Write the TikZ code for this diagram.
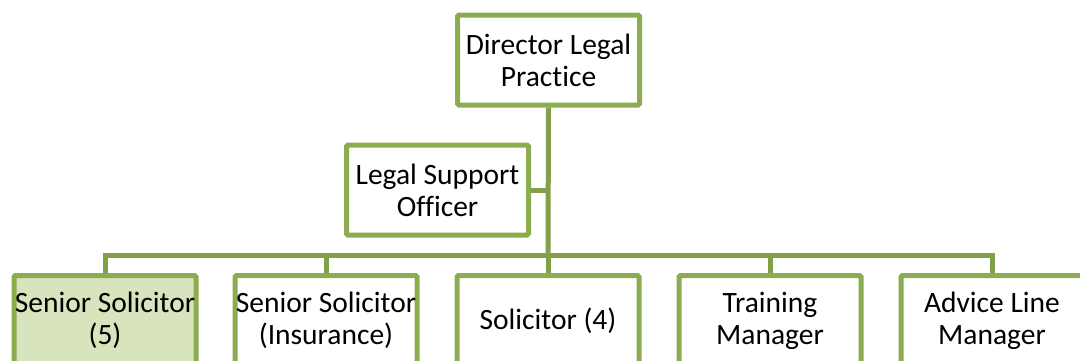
\documentclass[tikz,border=0pt]{standalone}
\usepackage{fontspec}
\setmainfont{Carlito}[Ligatures=NoCommon]
\definecolor{bord}{HTML}{8CAC50}
\definecolor{conn}{HTML}{82A04A}
\definecolor{lightg}{HTML}{D7E4BD}
\begin{document}
\begin{tikzpicture}[x=1pt,y=-1pt,
  box/.style={draw=bord,line width=5pt,fill=white,rounded corners=1.5pt,
    minimum width=182pt,minimum height=90pt,inner sep=0pt,align=center,
    font=\fontsize{29.5}{32}\selectfont},
  link/.style={draw=conn,line width=5pt}]
\useasboundingbox (0,0) rectangle (1080,360);
\clip (0,0) rectangle (1080,360);
\node[box] (dir) at (548.5,60) {Director Legal\\Practice};
\node[box] (lso) at (437.5,190) {Legal Support\\Officer};
\node[box,fill=lightg] (c1) at (105,320.5) {Senior Solicitor\\(5)};
\node[box] (c2) at (326,320.5) {Senior Solicitor\\(Insurance)};
\node[box] (c3) at (548,320.5) {Solicitor (4)};
\node[box] (c4) at (770,320.5) {Training\\Manager};
\node[box] (c5) at (992,320.5) {Advice Line\\Manager};
\coordinate (bus) at (548,255);
\draw[link] (dir.south) -- (bus);
\draw[link] (lso.east) -- (dir.south |- lso.east);
\draw[link] (bus) -| (c1.north);
\draw[link] (bus) -| (c2.north);
\draw[link] (bus) -- (c3.north);
\draw[link] (bus) -| (c4.north);
\draw[link] (bus) -| (c5.north);
\end{tikzpicture}
\end{document}
